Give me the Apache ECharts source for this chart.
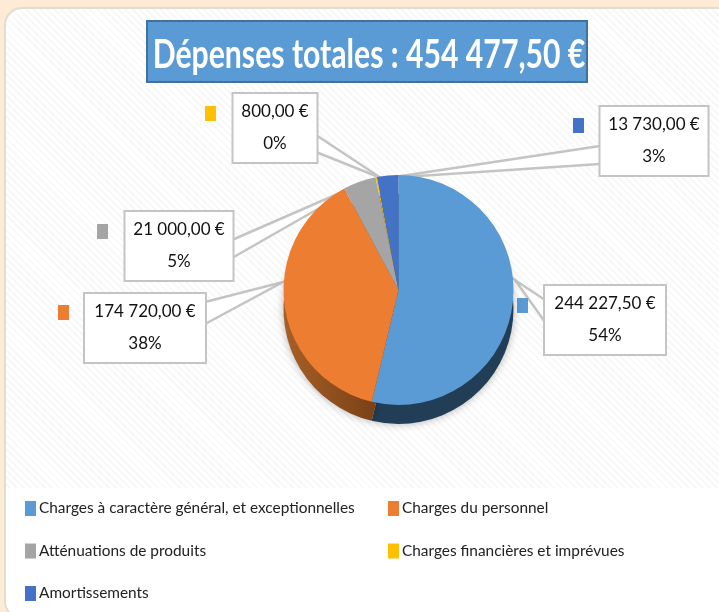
<!DOCTYPE html>
<html>
<head>
<meta charset="utf-8">
<script src="https://cdn.jsdelivr.net/npm/echarts@6/dist/echarts.min.js"></script>
<style>
    html, body { margin: 0; padding: 0; width: 719px; height: 612px; overflow: hidden; background: #fdebd6; }
    #panel {
        position: absolute; left: 4px; top: 7px; width: 800px; height: 612px;
        box-sizing: border-box; border: 2px solid #e0dcd6; border-radius: 18px; overflow: hidden;
        background: repeating-linear-gradient(45deg, #ffffff 0 3px, #f8f8f8 3px 5px);
    }
    #panel-bottom { position: absolute; left: 0; right: 0; top: 479px; bottom: 0; background: #fff; }
    #chart { position: absolute; left: 0; top: 0; width: 719px; height: 612px; }
</style>
</head>
<body>
<div id="panel"><div id="panel-bottom"></div></div>
<div id="chart"></div>
<script>
// Données
const categories = [
    'Charges à caractère général, et exceptionnelles',
    'Charges du personnel',
    'Atténuations de produits',
    'Charges financières et imprévues',
    'Amortissements'
];
const montants = [244227.5, 174720, 21000, 800, 13730];
const montantsTexte = ['244 227,50 €', '174 720,00 €', '21 000,00 €', '800,00 €', '13 730,00 €'];
const titre = 'Dépenses totales : 454 477,50 €';

const couleurs = ['#5b9bd5', '#ed7d31', '#a5a5a5', '#ffc000', '#4472c4'];
const couleursCote = [
    '#223e57',
    new echarts.graphic.LinearGradient(0, 0, 1, 0, [
        { offset: 0, color: '#a85f26' },
        { offset: 1, color: '#6e3a12' }
    ]),
    '#5f5f5f',
    '#8f6c00',
    '#27416f'
];

const FONT = 'Lato, "Liberation Sans", sans-serif';

// Étiquettes : centre de la boite, taille
const boites = [
    { x: 605, y: 320, w: 120 },
    { x: 145, y: 328, w: 120 },
    { x: 179, y: 246, w: 107 },
    { x: 275, y: 128, w: 83 },
    { x: 654, y: 141, w: 107 }
];
// Petits carrés à côté des étiquettes
const reperes = [[517, 298], [58, 305], [97, 224], [205, 106], [573, 118]];
// Traits de rappel : deux points sur la boite, puis la pointe
const rappels = [
    [[545, 300], [515, 280], [545, 322]],
    [[205, 302], [283, 282], [205, 324]],
    [[232, 240], [365, 182], [232, 258]],
    [[316, 135], [381, 178], [316, 152]],
    [[600, 146], [388, 178], [600, 164]]
];

const chart = echarts.init(document.getElementById('chart'));

const graphics = [
    {
        type: 'rect', z: 1,
        shape: { x: 147, y: 21, width: 440, height: 61 },
        style: { fill: '#5b9bd5', stroke: '#41719c', lineWidth: 2 }
    },
    {
        // police plus large que l'original, on la resserre
        type: 'text', z: 2,
        x: 369, y: 55, scaleX: 0.755,
        style: {
            text: titre,
            fill: '#fff',
            font: 'bold 40px ' + FONT,
            align: 'center',
            verticalAlign: 'middle'
        }
    }
];
rappels.forEach(pts => {
    graphics.push({
        type: 'polyline', z: 1,
        shape: { points: pts },
        style: { stroke: '#c4c4c4', lineWidth: 2.5, fill: '#fff' }
    });
});
reperes.forEach((p, i) => {
    graphics.push({
        type: 'rect', z: 1,
        shape: { x: p[0], y: p[1], width: 11, height: 15 },
        style: { fill: couleurs[i] }
    });
});

const legendeCommune = {
    top: 501, orient: 'vertical', itemGap: 27.5, padding: 0,
    itemWidth: 11, itemHeight: 15, icon: 'rect', selectedMode: false,
    textStyle: { fontFamily: FONT, fontSize: 15.4, color: '#222', padding: [0, 0, 0, -2] }
};

const option = {
    animation: false,
    legend: [
        Object.assign({}, legendeCommune, { left: 25, data: [categories[0], categories[2], categories[4]] }),
        Object.assign({}, legendeCommune, { left: 388, data: [categories[1], categories[3]] })
    ],
    graphic: graphics,
    series: [
        {
            type: 'pie',
            z: 3,
            radius: 115,
            center: [398.5, 290],
            startAngle: 90,
            clockwise: true,
            percentPrecision: 0,
            data: categories.map((nom, i) => ({
                name: nom,
                value: montants[i],
                itemStyle: { color: couleurs[i] },
                label: { width: boites[i].w }
            })),
            label: {
                show: true,
                position: 'outside',
                formatter: params => montantsTexte[params.dataIndex] + '\n' + params.percent + '%',
                fontFamily: FONT,
                fontSize: 17,
                lineHeight: 32,
                color: '#111',
                align: 'center',
                verticalAlign: 'middle',
                backgroundColor: '#fff',
                borderColor: '#c4c4c4',
                borderWidth: 2,
                padding: [4, 0, 0, 0]
            },
            labelLine: { show: false },
            labelLayout: params => ({
                x: boites[params.dataIndex].x,
                y: boites[params.dataIndex].y,
                align: 'center',
                verticalAlign: 'middle',
                hideOverlap: false,
                moveOverlap: false
            }),
            emphasis: { disabled: true }
        },
        {
            // Tranche du camembert (effet 3D)
            type: 'pie',
            z: 2,
            silent: true,
            radius: 115,
            center: [398.5, 309],
            startAngle: 90,
            clockwise: true,
            label: { show: false },
            labelLine: { show: false },
            data: categories.map((nom, i) => ({
                name: nom,
                value: montants[i],
                itemStyle: {
                    color: couleursCote[i],
                    shadowBlur: 8,
                    shadowColor: 'rgba(0,0,0,0.3)'
                }
            }))
        }
    ]
};

chart.setOption(option);
window.addEventListener('resize', function() { chart.resize(); });
</script>
</body>
</html>
